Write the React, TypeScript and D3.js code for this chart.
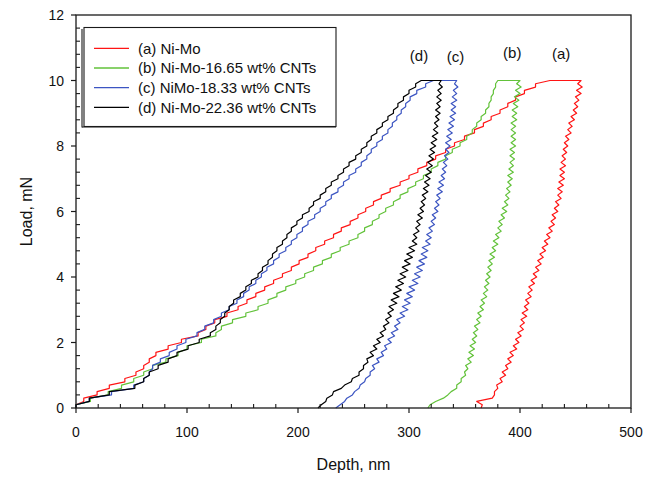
import React from "react";
import * as d3 from "d3";

// ---- data ----
const loadLevels = [
  0, 0.1, 0.2, 0.3, 0.4, 0.5, 0.6, 0.7, 0.8, 0.9,
  1, 1.1, 1.2, 1.3, 1.4, 1.5, 1.6, 1.7, 1.8, 1.9,
  2, 2.1, 2.2, 2.3, 2.4, 2.5, 2.6, 2.7, 2.8, 2.9,
  3, 3.1, 3.2, 3.3, 3.4, 3.5, 3.6, 3.7, 3.8, 3.9,
  4, 4.1, 4.2, 4.3, 4.4, 4.5, 4.6, 4.7, 4.8, 4.9,
  5, 5.1, 5.2, 5.3, 5.4, 5.5, 5.6, 5.7, 5.8, 5.9,
  6, 6.1, 6.2, 6.3, 6.4, 6.5, 6.6, 6.7, 6.8, 6.9,
  7, 7.1, 7.2, 7.3, 7.4, 7.5, 7.6, 7.7, 7.8, 7.9,
  8, 8.1, 8.2, 8.3, 8.4, 8.5, 8.6, 8.7, 8.8, 8.9,
  9, 9.1, 9.2, 9.3, 9.4, 9.5, 9.6, 9.7, 9.8, 9.9,
  10,
];

// loading depths (nm) at loadLevels, ascending load
const redLoad = [
  0, 0, 7, 7, 19, 19, 30, 30, 44, 44,
  54, 54, 61, 61, 66, 66, 72, 72, 83, 83,
  95, 95, 110, 110, 117, 117, 125, 125, 136, 136,
  146, 146, 154, 154, 162, 162, 170, 170, 178, 178,
  186, 186, 194, 194, 201, 201, 209, 209, 216, 216,
  224, 224, 232, 232, 239, 239, 247, 247, 254, 254,
  261, 261, 268, 268, 275, 275, 283, 283, 292, 292,
  300, 300, 308, 308, 316, 316, 324, 324, 333, 333,
  341, 341, 350, 350, 359, 359, 367, 367, 374, 374,
  382, 382, 389, 389, 396, 396, 404, 404, 414, 414,
  427,
];
// unloading depths (nm), from 10 mN down to 0
const redUnload = [
  455, 452, 456, 451, 455, 450, 453, 449, 452, 448,
  451, 446, 449, 444, 447, 443, 446, 441, 444, 440,
  443, 439, 442, 438, 441, 437, 441, 436, 440, 436,
  440, 435, 439, 434, 438, 434, 437, 432, 435, 431,
  434, 429, 432, 428, 431, 426, 429, 424, 427, 422,
  425, 420, 423, 418, 421, 416, 419, 414, 417, 412,
  415, 410, 413, 408, 411, 407, 410, 405, 408, 404,
  407, 402, 406, 401, 404, 400, 403, 398, 401, 396,
  399, 394, 397, 391, 394, 389, 392, 387, 389, 384,
  387, 382, 384, 379, 380, 377, 377, 375, 361, 366,
  365,
];

const greenLoad = [
  0, 0, 13, 13, 29, 29, 41, 41, 52, 52,
  61, 61, 69, 69, 81, 81, 92, 92, 100, 100,
  113, 113, 126, 126, 131, 131, 141, 141, 153, 153,
  164, 164, 173, 173, 181, 181, 189, 189, 198, 198,
  206, 206, 214, 214, 222, 222, 230, 230, 238, 238,
  246, 246, 254, 254, 260, 260, 267, 267, 273, 273,
  279, 279, 286, 286, 292, 292, 299, 299, 306, 306,
  313, 313, 320, 320, 326, 326, 333, 333, 339, 339,
  346, 346, 352, 352, 357, 357, 361, 361, 365, 365,
  369, 369, 372, 372, 374, 374, 376, 376, 378, 378,
  380,
];
const greenUnload = [
  400, 397, 401, 396, 400, 395, 399, 394, 398, 393,
  397, 393, 397, 392, 396, 392, 396, 392, 396, 392,
  396, 391, 395, 391, 395, 391, 394, 390, 394, 389,
  393, 389, 392, 388, 391, 387, 390, 386, 389, 384,
  388, 383, 386, 381, 384, 380, 383, 378, 381, 376,
  380, 375, 378, 373, 377, 372, 375, 371, 374, 370,
  373, 369, 372, 368, 371, 367, 370, 365, 368, 364,
  367, 362, 365, 361, 364, 359, 362, 358, 361, 357,
  360, 355, 359, 354, 358, 353, 356, 351, 353, 350,
  351, 347, 347, 343, 343, 338, 335, 331, 324, 319,
  317,
];

const blueLoad = [
  0, 0, 12, 12, 32, 32, 52, 52, 61, 61,
  66, 66, 69, 69, 76, 76, 84, 84, 91, 91,
  99, 99, 109, 109, 116, 116, 124, 124, 131, 131,
  138, 138, 145, 145, 151, 151, 156, 156, 162, 162,
  167, 167, 172, 172, 178, 178, 183, 183, 189, 189,
  194, 194, 199, 199, 204, 204, 209, 209, 215, 215,
  220, 220, 225, 225, 230, 230, 236, 236, 241, 241,
  246, 246, 252, 252, 257, 257, 262, 262, 266, 266,
  271, 271, 276, 276, 281, 281, 285, 285, 289, 289,
  293, 293, 297, 297, 301, 301, 307, 307, 315, 315,
  322,
];
const blueUnload = [
  343, 341, 344, 340, 343, 339, 343, 338, 342, 338,
  342, 337, 341, 336, 340, 335, 339, 334, 338, 333,
  337, 333, 336, 332, 335, 331, 334, 330, 333, 329,
  332, 327, 331, 326, 330, 325, 328, 324, 327, 323,
  326, 321, 324, 320, 323, 318, 321, 316, 320, 315,
  319, 312, 317, 311, 316, 309, 314, 307, 312, 305,
  310, 303, 308, 300, 305, 298, 303, 296, 301, 294,
  299, 292, 296, 289, 292, 287, 290, 284, 287, 281,
  284, 278, 280, 275, 277, 271, 273, 267, 269, 265,
  265, 261, 260, 256, 255, 251, 249, 244, 242, 238,
  234,
];

const blackLoad = [
  0, 0, 12, 12, 30, 30, 53, 53, 61, 61,
  66, 66, 74, 74, 83, 83, 91, 91, 101, 101,
  111, 111, 121, 121, 126, 126, 130, 130, 134, 134,
  138, 138, 142, 142, 148, 148, 153, 153, 158, 158,
  164, 164, 168, 168, 173, 173, 177, 177, 181, 181,
  186, 186, 190, 190, 194, 194, 199, 199, 204, 204,
  210, 210, 214, 214, 220, 220, 225, 225, 230, 230,
  236, 236, 241, 241, 246, 246, 252, 252, 257, 257,
  262, 262, 266, 266, 271, 271, 276, 276, 281, 281,
  286, 286, 290, 290, 295, 295, 300, 300, 306, 306,
  311,
];
const blackUnload = [
  329, 327, 330, 326, 329, 325, 329, 325, 328, 324,
  328, 324, 327, 323, 326, 322, 326, 321, 325, 320,
  324, 319, 323, 318, 322, 317, 321, 316, 320, 315,
  319, 314, 318, 313, 317, 312, 315, 311, 314, 310,
  313, 308, 312, 307, 310, 306, 309, 304, 307, 303,
  307, 300, 305, 298, 303, 296, 301, 294, 299, 292,
  297, 290, 295, 288, 293, 286, 291, 284, 289, 282,
  286, 281, 284, 279, 282, 277, 279, 274, 277, 271,
  274, 268, 271, 265, 268, 262, 263, 259, 259, 255,
  255, 249, 248, 242, 239, 232, 231, 226, 225, 221,
  218,
];

const seriesNames = [
  "(a) Ni-Mo",
  "(b) Ni-Mo-16.65 wt% CNTs",
  "(c) NiMo-18.33 wt% CNTs",
  "(d) Ni-Mo-22.36 wt% CNTs",
];
const seriesColors = ["#ff1414", "#62c23a", "#3c55c2", "#000000"];
const seriesLoad = [redLoad, greenLoad, blueLoad, blackLoad];
const seriesUnload = [redUnload, greenUnload, blueUnload, blackUnload];
const curveLabels = ["(a)", "(b)", "(c)", "(d)"];
const labelDepths = [437, 393, 342, 309];
const labelLoads = [10.65, 10.7, 10.55, 10.6];

const xTicks = [0, 100, 200, 300, 400, 500];
const yTicks = [0, 2, 4, 6, 8, 10, 12];

const FONT = "'Liberation Sans', Arial, Helvetica, sans-serif";

export default function App() {
  const W = 655;
  const H = 477;
  const x = d3.scaleLinear().domain([0, 500]).range([76, 631]);
  const y = d3.scaleLinear().domain([0, 12]).range([408, 15]);

  const line = d3
    .line<[number, number]>()
    .x((d) => x(d[0]))
    .y((d) => y(d[1]));

  const paths = seriesLoad.map((ld, s) => {
    const pts: [number, number][] = [];
    ld.forEach((d, i) => pts.push([d, loadLevels[i]]));
    const ul = seriesUnload[s];
    ul.forEach((d, j) => pts.push([d, loadLevels[loadLevels.length - 1 - j]]));
    return line(pts) || "";
  });

  const xMinor = d3.range(0, 501, 20).filter((v) => v % 100 !== 0);
  const yMinor = d3
    .range(0, 30)
    .map((i) => +(i * 0.4).toFixed(1))
    .filter((v) => Math.abs(v / 2 - Math.round(v / 2)) > 1e-6);

  const axisColor = "#1a1a1a";

  return (
    <svg
      width={W}
      height={H}
      style={{ position: "absolute", left: 0, top: 0, background: "#fff" }}
      fontFamily={FONT}
    >
      <rect x={0} y={0} width={W} height={H} fill="#fff" />
      {paths.map((p, i) => (
        <path
          key={i}
          d={p}
          fill="none"
          stroke={seriesColors[i]}
          strokeWidth={1.2}
          strokeLinejoin="round"
        />
      ))}
      <rect
        x={x(0)}
        y={y(12)}
        width={x(500) - x(0)}
        height={y(0) - y(12)}
        fill="none"
        stroke={axisColor}
        strokeWidth={1.3}
      />
      {xTicks.map((t) => (
        <g key={"xt" + t}>
          <line x1={x(t)} x2={x(t)} y1={y(0)} y2={y(0) + 5} stroke={axisColor} strokeWidth={1.2} />
          <text x={x(t)} y={437} textAnchor="middle" fontSize={14} fill="#111">
            {t}
          </text>
        </g>
      ))}
      {xMinor.map((t) => (
        <line key={"xm" + t} x1={x(t)} x2={x(t)} y1={y(0)} y2={y(0) - 4} stroke={axisColor} strokeWidth={1.1} />
      ))}
      {yTicks.map((t) => (
        <g key={"yt" + t}>
          <line x1={x(0) - 5} x2={x(0)} y1={y(t)} y2={y(t)} stroke={axisColor} strokeWidth={1.2} />
          <text x={64} y={y(t) + 5} textAnchor="end" fontSize={14} fill="#111">
            {t}
          </text>
        </g>
      ))}
      {yMinor.map((t) => (
        <line key={"ym" + t} x1={x(0)} x2={x(0) + 4} y1={y(t)} y2={y(t)} stroke={axisColor} strokeWidth={1.1} />
      ))}
      <text x={353.5} y={470} textAnchor="middle" fontSize={16} fill="#111">
        Depth, nm
      </text>
      <text
        transform={`translate(32, ${(y(0) + y(12)) / 2}) rotate(-90)`}
        textAnchor="middle"
        fontSize={16}
        fill="#111"
      >
        Load, mN
      </text>
      {curveLabels.map((l, i) => (
        <text key={l} x={x(labelDepths[i])} y={y(labelLoads[i])} textAnchor="middle" fontSize={15} fill="#111">
          {l}
        </text>
      ))}
      <rect x={84} y={27.5} width={252} height={99} fill="#fff" stroke={axisColor} strokeWidth={1.1} />
      <line x1={82} x2={82} y1={29} y2={127.5} stroke={axisColor} strokeWidth={1.1} />
      <line x1={82} x2={336} y1={127} y2={127} stroke={axisColor} strokeWidth={1.1} />
      {seriesNames.map((n, i) => {
        const ly = 48.3 + i * 19.7;
        return (
          <g key={n}>
            <line x1={94} x2={129} y1={ly} y2={ly} stroke={seriesColors[i]} strokeWidth={1.3} />
            <text x={138} y={ly + 5.3} fontSize={15} fill="#111">
              {n}
            </text>
          </g>
        );
      })}
    </svg>
  );
}
